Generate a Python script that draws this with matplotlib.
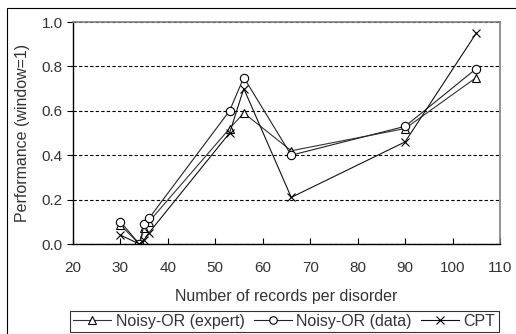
import matplotlib
matplotlib.use('Agg')
import matplotlib.pyplot as plt
from matplotlib.patches import Rectangle

plt.rcParams['font.family'] = ['Liberation Sans', 'DejaVu Sans']

records = [30, 34, 35, 36, 53, 56, 66, 90, 105]
expert = [0.085, 0.0, 0.07, 0.10, 0.52, 0.59, 0.42, 0.52, 0.75]
data = [0.10, 0.0, 0.09, 0.115, 0.60, 0.75, 0.40, 0.53, 0.79]
cpt = [0.04, 0.0, 0.02, 0.05, 0.50, 0.70, 0.21, 0.46, 0.95]

fig = plt.figure(figsize=(5.16, 3.34), dpi=100)
ax = fig.add_axes([73 / 516, 1 - 244 / 334, 427 / 516, 222 / 334])

# outer chart frame
fig.patches.append(Rectangle((7 / 516, -0.05), 1.1, 1 - 8 / 334 + 0.05, transform=fig.transFigure,
                             fill=False, edgecolor='black', linewidth=0.8))

ax.plot(records, expert, color='#333333', linewidth=0.8, marker='^', markersize=6,
        markerfacecolor='white', markeredgecolor='black', markeredgewidth=0.8, label='Noisy-OR (expert)')
ax.plot(records, data, color='#222222', linewidth=0.8, marker='o', markersize=6,
        markerfacecolor='white', markeredgecolor='black', markeredgewidth=0.8, label='Noisy-OR (data)')
ax.plot(records, cpt, color='#111111', linewidth=0.8, marker='x', markersize=6,
        markeredgecolor='black', markeredgewidth=0.8, label='CPT')

ax.set_xlim(20, 110)
ax.set_ylim(0, 1.0)
ax.set_xticks(range(20, 111, 10))
ax.set_yticks([0.0, 0.2, 0.4, 0.6, 0.8, 1.0])
ax.set_yticklabels(['0.0', '0.2', '0.4', '0.6', '0.8', '1.0'])
ax.yaxis.grid(True, linestyle=(0, (3, 2)), color='black', linewidth=0.8)
ax.set_axisbelow(True)
ax.tick_params(axis='x', direction='in', length=4, labelsize=11, colors='#333333', pad=12)
ax.tick_params(axis='y', direction='out', length=4, labelsize=11, colors='#333333')
ax.tick_params(axis='both', color='black')
for side in ['left', 'bottom']:
    ax.spines[side].set_color('black')
    ax.spines[side].set_linewidth(1.0)
for side in ['top', 'right']:
    ax.spines[side].set_color('#808080')
    ax.spines[side].set_linewidth(1.2)

ax.set_xlabel('Number of records per disorder', fontsize=11.5, color='#333333', labelpad=10)
ax.set_ylabel('Performance (window=1)', fontsize=11.5, color='#333333', labelpad=8)

leg = fig.legend(loc='lower left', bbox_to_anchor=(70 / 516, 2 / 334), ncol=3, fontsize=11.5,
                 frameon=True, fancybox=False, edgecolor='black', handlelength=2.35,
                 handletextpad=0.3, columnspacing=0.6, borderpad=0.2, borderaxespad=0,
                 markerscale=0.9)
leg.get_frame().set_linewidth(0.8)
for t in leg.get_texts():
    t.set_color('#333333')

fig.savefig('out.png', dpi=100)
